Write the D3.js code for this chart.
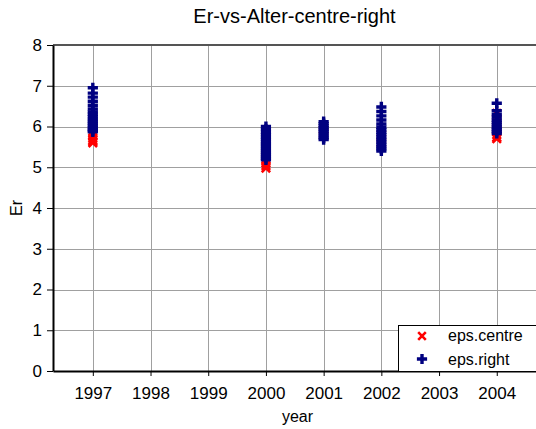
<!DOCTYPE html>
<html>
<head>
<meta charset="utf-8">
<script src="https://cdn.jsdelivr.net/npm/d3@7"></script>
<style>
  body { margin: 0; background: #fff; }
  svg { display: block; font-family: "Liberation Sans", Arial, sans-serif; }
</style>
</head>
<body>
<div id="chart"></div>
<script>
// Données
const years = [1997, 2000, 2001, 2002, 2004];
const yTicks = [0, 1, 2, 3, 4, 5, 6, 7, 8];
const xTicks = [1997, 1998, 1999, 2000, 2001, 2002, 2003, 2004];

// eps.centre (croix rouges), une liste par année
const centre1997 = [5.60, 5.63, 5.67, 5.72, 5.78, 5.85];
const centre2000 = [4.98, 5.04, 5.10, 5.18, 5.26, 5.35];
const centre2001 = [5.78, 5.85, 5.92];
const centre2002 = [5.60, 5.70, 5.80];
const centre2004 = [6.32, 6.20, 6.10, 6.00, 5.90, 5.80, 5.74, 5.70];

// eps.right (plus bleus)
const right1997 = [6.95, 6.82, 6.72, 6.62, 6.52, 6.43, 6.36, 6.30, 6.24, 6.18, 6.13, 6.08, 6.03, 5.98, 5.94, 5.90, 5.87];
const right2000 = [6.00, 5.93, 5.86, 5.80, 5.74, 5.68, 5.62, 5.57, 5.52, 5.47, 5.42, 5.37, 5.32, 5.27, 5.22, 5.18];
const right2001 = [6.12, 6.07, 6.02, 5.97, 5.92, 5.87, 5.82, 5.77, 5.72, 5.68];
const right2002 = [6.48, 6.37, 6.26, 6.16, 6.06, 5.98, 5.92, 5.86, 5.80, 5.74, 5.68, 5.62, 5.56, 5.50, 5.45, 5.40];
const right2004 = [6.57, 6.39, 6.30, 6.23, 6.16, 6.10, 6.04, 5.98, 5.93, 5.88, 5.83];

const centreByYear = [centre1997, centre2000, centre2001, centre2002, centre2004];
const rightByYear = [right1997, right2000, right2001, right2002, right2004];

// Aplatir en points {year, value}
const centrePoints = years.flatMap((yr, i) => centreByYear[i].map(v => ({ year: yr, value: v })));
const rightPoints = years.flatMap((yr, i) => rightByYear[i].map(v => ({ year: yr, value: v })));

// Dimensions
const width = 536, height = 429;
const plot = { left: 53, right: 536, top: 45, bottom: 371 };

const svg = d3.select("#chart").append("svg")
    .attr("width", width)
    .attr("height", height);

const x = d3.scaleLinear().domain([1996.31, 2004.68]).range([plot.left, plot.right]);
const y = d3.scaleLinear().domain([0, 8]).range([plot.bottom, plot.top]);

// Grille
svg.append("g")
    .selectAll("line")
    .data(yTicks.slice(1, -1))
    .join("line")
    .attr("x1", plot.left).attr("x2", plot.right)
    .attr("y1", d => Math.round(y(d)) + 0.5).attr("y2", d => Math.round(y(d)) + 0.5)
    .attr("stroke", "#a0a0a0");

svg.append("g")
    .selectAll("line")
    .data(xTicks)
    .join("line")
    .attr("x1", d => Math.round(x(d)) + 0.5).attr("x2", d => Math.round(x(d)) + 0.5)
    .attr("y1", plot.top).attr("y2", plot.bottom)
    .attr("stroke", "#a0a0a0");

// Bordure du haut
svg.append("line")
    .attr("x1", plot.left).attr("x2", plot.right)
    .attr("y1", plot.top).attr("y2", plot.top)
    .attr("stroke", "#555").attr("stroke-width", 2);

// Axes
const yAxis = svg.append("g")
    .attr("transform", `translate(${plot.left},0)`)
    .call(d3.axisLeft(y).tickValues(yTicks).tickSize(6).tickPadding(5).tickSizeOuter(0));
const xAxis = svg.append("g")
    .attr("transform", `translate(0,${plot.bottom})`)
    .call(d3.axisBottom(x).tickValues(xTicks).tickFormat(d3.format("d")).tickSize(5).tickPadding(11).tickSizeOuter(0));

[yAxis, xAxis].forEach(g => {
    g.select(".domain").attr("stroke", "#000").attr("stroke-width", 2);
    g.selectAll(".tick line").attr("stroke", "#000");
    g.selectAll(".tick text")
        .style("font-family", "'Liberation Sans', Arial, sans-serif")
        .style("font-size", "17px")
        .attr("fill", "#000");
});

// Marqueurs
const crossPath = "M-4.2,-4.2L4.2,4.2M4.2,-4.2L-4.2,4.2";
const plusPath = d3.symbol().type(d3.symbolCross).size(58)();

svg.append("g")
    .selectAll("path")
    .data(centrePoints)
    .join("path")
    .attr("transform", d => `translate(${x(d.year)},${y(d.value)})`)
    .attr("d", crossPath)
    .attr("stroke", "#ff0000")
    .attr("stroke-width", 2.6)
    .attr("fill", "none");

svg.append("g")
    .selectAll("path")
    .data(rightPoints)
    .join("path")
    .attr("transform", d => `translate(${x(d.year)},${y(d.value)})`)
    .attr("d", plusPath)
    .attr("fill", "#000080");

// Titres
svg.append("text")
    .attr("x", (plot.left + plot.right) / 2)
    .attr("y", 23)
    .attr("text-anchor", "middle")
    .style("font-size", "20px")
    .text("Er-vs-Alter-centre-right");

svg.append("text")
    .attr("x", (plot.left + plot.right) / 2 + 3)
    .attr("y", 422)
    .attr("text-anchor", "middle")
    .style("font-size", "16px")
    .text("year");

svg.append("text")
    .attr("transform", `translate(22,${(plot.top + plot.bottom) / 2}) rotate(-90)`)
    .attr("text-anchor", "middle")
    .style("font-size", "16px")
    .text("Er");

// Légende
const legend = svg.append("g");
legend.append("rect")
    .attr("x", 398.5).attr("y", 325.5)
    .attr("width", 145).attr("height", 46)
    .attr("fill", "#fff").attr("stroke", "#000");
legend.append("path")
    .attr("transform", "translate(422,336)")
    .attr("d", "M-3.8,-3.8L3.8,3.8M3.8,-3.8L-3.8,3.8")
    .attr("stroke", "#ff0000").attr("stroke-width", 2.6);
legend.append("path")
    .attr("transform", "translate(422,359)")
    .attr("d", plusPath)
    .attr("fill", "#000080");
legend.append("text")
    .attr("x", 448).attr("y", 341)
    .style("font-size", "16px")
    .text("eps.centre");
legend.append("text")
    .attr("x", 448).attr("y", 364.5)
    .style("font-size", "16px")
    .text("eps.right");
</script>
</body>
</html>
